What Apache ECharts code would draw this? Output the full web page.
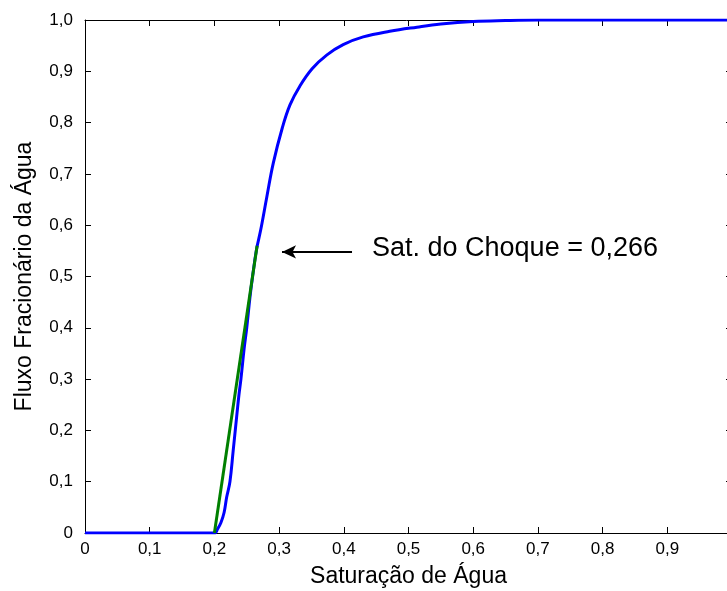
<!DOCTYPE html>
<html>
<head>
<meta charset="utf-8">
<script src="https://cdn.jsdelivr.net/npm/echarts@6/dist/echarts.min.js"></script>
<style>
  html, body { margin: 0; padding: 0; background: #fff; }
  #chart { width: 727px; height: 591px; }
</style>
</head>
<body>
<div id="chart"></div>
<script>
// curva de fluxo fracionário (Sw, fw)
const satAgua = [0, 0.2, 0.205, 0.21, 0.215, 0.219, 0.224, 0.229, 0.235, 0.238, 0.241, 0.246, 0.25, 0.255, 0.259, 0.265,
  0.2716, 0.281, 0.291, 0.305, 0.317, 0.332, 0.351, 0.374, 0.399, 0.43, 0.471, 0.513, 0.55, 0.6, 0.65, 0.7, 1];
const fluxoFrac = [0, 0, 0.008, 0.02, 0.04, 0.07, 0.1, 0.16, 0.234, 0.27, 0.3, 0.36, 0.4, 0.46, 0.5, 0.552,
  0.591, 0.655, 0.721, 0.79, 0.835, 0.871, 0.905, 0.932, 0.952, 0.967, 0.978, 0.986, 0.992, 0.997, 0.999, 1, 1];
// reta tangente (Welge)
const tangenteX = [0.2, 0.266];
const tangenteY = [0, 0.56];
// seta da anotação
const setaX = [0.4127, 0.3045];
const setaY = [0.548, 0.548];

const xTickLabels = ['0', '0,1', '0,2', '0,3', '0,4', '0,5', '0,6', '0,7', '0,8', '0,9', '1'];
const yTickLabels = ['0', '0,1', '0,2', '0,3', '0,4', '0,5', '0,6', '0,7', '0,8', '0,9', '1,0'];

const curva = satAgua.map((s, i) => [s, fluxoFrac[i]]);
const tangente = tangenteX.map((s, i) => [s, tangenteY[i]]);

const fonte = 'Liberation Sans, Arial, sans-serif';

let chart = echarts.init(document.getElementById('chart'), null, { renderer: 'canvas' });

const eixoBase = {
  type: 'value',
  min: 0,
  max: 1,
  interval: 0.1,
  splitLine: { show: false },
  axisLine: { show: true, onZero: false, lineStyle: { color: '#000', width: 1 } },
  axisTick: { show: true, inside: true, length: 6, lineStyle: { color: '#000' } }
};

let options = {
  animation: false,
  backgroundColor: '#fff',
  // a área do gráfico passa um pouco da borda direita, como no original
  grid: { left: 85, top: 20, width: 647, height: 513, outerBoundsMode: 'none' },
  xAxis: [
    Object.assign({}, eixoBase, {
      position: 'bottom',
      name: 'Saturação de Água',
      nameLocation: 'middle',
      nameGap: 32,
      nameTextStyle: { fontFamily: fonte, fontSize: 23, color: '#000' },
      axisLabel: {
        margin: 8,
        fontFamily: fonte,
        fontSize: 17,
        color: '#000',
        formatter: (v) => xTickLabels[Math.round(v * 10)]
      }
    }),
    Object.assign({}, eixoBase, { position: 'top', axisLabel: { show: false } })
  ],
  yAxis: [
    Object.assign({}, eixoBase, {
      position: 'left',
      name: 'Fluxo Fracionário da Água',
      nameLocation: 'middle',
      nameGap: 49,
      nameTextStyle: { fontFamily: fonte, fontSize: 23, color: '#000' },
      axisLabel: {
        margin: 12,
        fontFamily: fonte,
        fontSize: 17,
        color: '#000',
        formatter: (v) => yTickLabels[Math.round(v * 10)]
      }
    }),
    Object.assign({}, eixoBase, { position: 'right', axisLabel: { show: false } })
  ],
  series: [
    {
      name: 'fw',
      type: 'line',
      data: curva,
      showSymbol: false,
      smooth: 0.4,
      lineStyle: { color: '#0000ff', width: 3 },
      z: 3
    },
    {
      name: 'tangente',
      type: 'line',
      data: tangente,
      showSymbol: false,
      lineStyle: { color: '#008000', width: 3 },
      z: 4
    },
    {
      name: 'seta',
      type: 'line',
      data: [],
      markLine: {
        silent: true,
        symbol: ['none', 'arrow'],
        symbolSize: [10, 14],
        label: { show: false },
        lineStyle: { color: '#000', width: 2, type: 'solid' },
        data: [[{ coord: [setaX[0], setaY[0]] }, { coord: [setaX[1], setaY[1]] }]]
      }
    }
  ],
  graphic: [
    {
      type: 'text',
      left: 372,
      top: 235,
      style: { text: 'Sat. do Choque = 0,266', fontFamily: fonte, fontSize: 27, fill: '#000' }
    }
  ]
};

chart.setOption(options);
</script>
</body>
</html>
